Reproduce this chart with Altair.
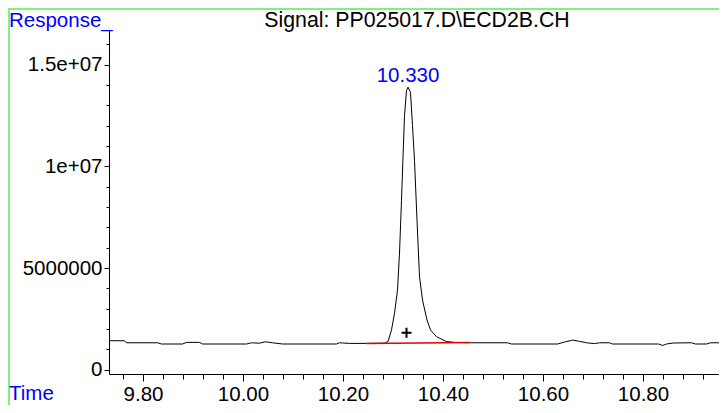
import altair as alt
import pandas as pd

# ---- data ----
time = [9.733, 9.763, 9.767, 9.829, 9.837, 9.879, 9.887, 9.913, 9.919, 10.007,
        10.017, 10.033, 10.045, 10.059, 10.079, 10.187, 10.193, 10.199, 10.213, 10.247,
        10.283, 10.290, 10.297, 10.303, 10.309, 10.313, 10.317, 10.320, 10.323, 10.327,
        10.330, 10.335, 10.339, 10.343, 10.348, 10.353, 10.359, 10.368, 10.375, 10.387,
        10.407, 10.423, 10.453, 10.529, 10.537, 10.629, 10.645, 10.659, 10.673, 10.687,
        10.703, 10.713, 10.733, 10.739, 10.831, 10.839, 10.847, 10.861, 10.897, 10.905,
        10.927, 10.935, 10.968]
response = [1.43e6, 1.43e6, 1.33e6, 1.33e6, 1.27e6, 1.27e6, 1.35e6, 1.35e6, 1.27e6, 1.27e6,
            1.33e6, 1.31e6, 1.38e6, 1.33e6, 1.27e6, 1.27e6, 1.33e6, 1.32e6, 1.30e6, 1.30e6,
            1.31e6, 1.39e6, 1.96e6, 2.78e6, 3.92e6, 5.74e6, 8.33e6, 10.46e6, 12.5e6, 13.73e6,
            13.89e6, 13.64e6, 12.0e6, 10.29e6, 7.35e6, 4.57e6, 3.43e6, 2.45e6, 1.96e6, 1.63e6,
            1.39e6, 1.35e6, 1.33e6, 1.33e6, 1.27e6, 1.27e6, 1.38e6, 1.46e6, 1.40e6, 1.33e6,
            1.29e6, 1.33e6, 1.33e6, 1.27e6, 1.27e6, 1.20e6, 1.27e6, 1.32e6, 1.33e6, 1.27e6,
            1.27e6, 1.33e6, 1.33e6]

baseline_time = [10.247, 10.453]
baseline_resp = [1.30e6, 1.35e6]

peak_time = [10.330]
peak_resp = [13.89e6]
peak_label = ["10.330"]

marker_time = [10.327]
marker_resp = [1.82e6]

x_major = [9.80, 10.00, 10.20, 10.40, 10.60, 10.80]
x_minor = [9.76, 9.80, 9.84, 9.88, 9.92, 9.96, 10.00, 10.04, 10.08, 10.12, 10.16,
           10.20, 10.24, 10.28, 10.32, 10.36, 10.40, 10.44, 10.48, 10.52, 10.56,
           10.60, 10.64, 10.68, 10.72, 10.76, 10.80, 10.84, 10.88, 10.92]
y_major = [0, 5000000, 10000000, 15000000]
y_major_labels = ["0", "5000000", "1e+07", "1.5e+07"]
y_minor = [0, 1e6, 2e6, 3e6, 4e6, 5e6, 6e6, 7e6, 8e6, 9e6, 10e6, 11e6, 12e6, 13e6,
           14e6, 15e6, 16e6]

title_text = "Signal: PP025017.D\\ECD2B.CH"
y_title = "Response_"
x_title = "Time"

# ---- chart ----
FONT = "Liberation Sans"
FS = 20.5
W, H = 610, 344
x_dom = [9.732, 10.952]
y_dom = [-204000, 16700000]

sig = pd.DataFrame({"t": time, "r": response})
base = pd.DataFrame({"t": baseline_time, "r": baseline_resp})
peak = pd.DataFrame({"t": peak_time, "r": peak_resp, "lab": peak_label})
mark = pd.DataFrame({"t": marker_time, "r": marker_resp})
one = pd.DataFrame({"a": [0]})

xs = alt.Scale(domain=x_dom, nice=False, zero=False)
ys = alt.Scale(domain=y_dom, nice=False, zero=False)

label_expr = " : ".join(
    f"datum.value == {v} ? '{l}'" for v, l in zip(y_major, y_major_labels)
) + " : ''"

signal = alt.Chart(sig).mark_line(color="black", strokeWidth=1, clip=True).encode(
    x=alt.X("t:Q", scale=xs, title=None,
            axis=alt.Axis(orient="bottom", values=x_major, format=".2f", tickSize=7,
                          labelPadding=3, labelFontSize=FS, labelFont=FONT)),
    y=alt.Y("r:Q", scale=ys, title=None,
            axis=alt.Axis(orient="left", values=y_major, labelExpr=label_expr, tickSize=5,
                          labelPadding=2, labelFontSize=FS, labelFont=FONT)),
)

baseline = alt.Chart(base).mark_line(color="#e00000", strokeWidth=1.5).encode(
    x=alt.X("t:Q", scale=xs, title=None,
            axis=alt.Axis(orient="bottom", values=x_minor, labels=False, domain=False,
                          tickSize=5)),
    y=alt.Y("r:Q", scale=ys, title=None,
            axis=alt.Axis(orient="left", values=y_minor, labels=False, domain=False,
                          tickSize=3)),
)

peak_text = alt.Chart(peak).mark_text(
    color="blue", font=FONT, fontSize=FS, baseline="alphabetic", align="center", dy=-5
).encode(
    x=alt.X("t:Q", scale=xs, axis=None),
    y=alt.Y("r:Q", scale=ys, axis=None),
    text="lab:N",
)

plus = alt.Chart(mark).mark_point(
    shape="M-1,0L1,0M0,-1L0,1", size=100, filled=False, color="black", strokeWidth=2,
    opacity=1
).encode(
    x=alt.X("t:Q", scale=xs, axis=None),
    y=alt.Y("r:Q", scale=ys, axis=None),
)

title_mark = alt.Chart(one).mark_text(
    font=FONT, fontSize=21.3, color="black", align="center", baseline="alphabetic"
).encode(x=alt.value(308), y=alt.value(-3), text=alt.value(title_text))

ytitle_mark = alt.Chart(one).mark_text(
    font=FONT, fontSize=FS, color="blue", align="left", baseline="alphabetic"
).encode(x=alt.value(-100), y=alt.value(-3.5), text=alt.value(y_title))

xtitle_mark = alt.Chart(one).mark_text(
    font=FONT, fontSize=FS, color="blue", align="left", baseline="alphabetic"
).encode(x=alt.value(-100), y=alt.value(370), text=alt.value(x_title))

top_border = alt.Chart(one).mark_rule(color="#80f080", strokeWidth=2).encode(
    x=alt.value(-101), x2=alt.value(W + 5), y=alt.value(-21)
)
left_border = alt.Chart(one).mark_rule(color="#80f080", strokeWidth=2).encode(
    x=alt.value(-100), y=alt.value(-22), y2=alt.value(H + 40)
)

chart = alt.layer(
    top_border, left_border, signal, baseline, peak_text, plus,
    title_mark, ytitle_mark, xtitle_mark
).resolve_axis(x="independent", y="independent").properties(
    width=W, height=H,
    autosize=alt.AutoSizeParams(type="none"),
    padding={"left": 101, "top": 22, "right": 0, "bottom": 31},
).configure_view(stroke=None).configure_axis(
    grid=False, domainColor="black", tickColor="black", labelColor="black",
    domainWidth=1, tickWidth=1
)

chart.save("out.html", embed_options={"renderer": "svg", "actions": False})
